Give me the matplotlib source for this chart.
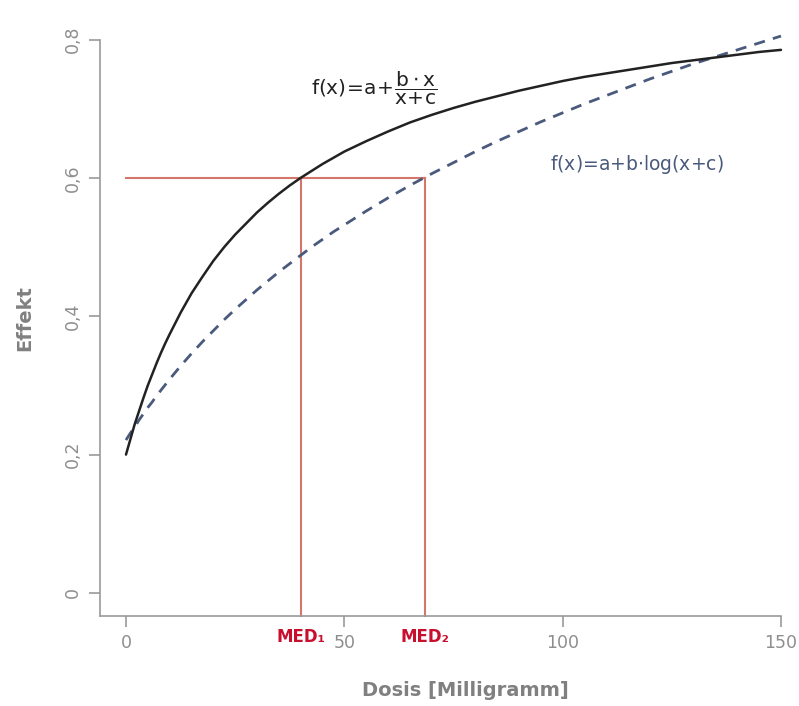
import matplotlib
matplotlib.use("Agg")
import matplotlib.pyplot as plt

# Dose values (mg)
dose = [0, 1, 2, 3, 4, 5, 6, 7, 8, 9, 10, 12.5, 15, 17.5, 20, 22.5, 25, 27.5,
        30, 32.5, 35, 37.5, 40, 42.5, 45, 47.5, 50, 55, 60, 65, 70, 75,
        80, 85, 90, 95, 100, 105, 110, 115, 120, 125, 130, 135, 140, 145, 150]
# Emax model curve  f(x)=a+b*x/(x+c)
effect_emax = [0.200, 0.222, 0.244, 0.263, 0.282, 0.300, 0.316, 0.332, 0.347,
               0.361, 0.374, 0.405, 0.433, 0.457, 0.480, 0.500, 0.518, 0.534,
               0.550, 0.564, 0.577, 0.589, 0.600, 0.610, 0.620, 0.629, 0.638,
               0.653, 0.667, 0.680, 0.691, 0.701, 0.710, 0.718, 0.726, 0.733,
               0.740, 0.746, 0.751, 0.756, 0.761, 0.766, 0.770, 0.774, 0.778,
               0.782, 0.785]
# Log model curve  f(x)=a+b*log(x+c)
effect_log = [0.221, 0.231, 0.240, 0.250, 0.259, 0.268, 0.276, 0.285, 0.293,
              0.301, 0.309, 0.328, 0.346, 0.363, 0.379, 0.395, 0.410, 0.424,
              0.438, 0.451, 0.464, 0.476, 0.488, 0.500, 0.511, 0.522, 0.532,
              0.552, 0.571, 0.589, 0.606, 0.622, 0.638, 0.653, 0.667, 0.681,
              0.694, 0.707, 0.719, 0.731, 0.743, 0.754, 0.765, 0.775, 0.785,
              0.795, 0.805]

target_effect = 0.6
med1 = 40.1
med2 = 68.4
med_labels = ["MED\u2081", "MED\u2082"]

x_ticks = [0, 50, 100, 150]
x_ticklabels = ["0", "50", "100", "150"]
y_ticks = [0, 0.2, 0.4, 0.6, 0.8]
y_ticklabels = ["0", "0,2", "0,4", "0,6", "0,8"]

plt.rcParams["mathtext.fontset"] = "dejavusans"

W, H = 799, 706
fig = plt.figure(figsize=(W / 100, H / 100), dpi=100)
ax_w = (781 - 100) / W
ax_h = (616 - 39.5) / H
ax = fig.add_axes([100 / W, 1 - 616 / H, ax_w, ax_h])

gray = "#8e8e8e"
red = "#d4766a"
medred = "#c8102e"
blue = "#4a5a7c"

ybot = -0.0333
ax.set_xlim(-5.95, 150)
ax.set_ylim(ybot, 0.8)

ax.plot([0, med2], [target_effect, target_effect], color=red, lw=1.5, zorder=2)
ax.plot([med1, med1], [ybot, target_effect], color=red, lw=1.5, zorder=2, clip_on=False)
ax.plot([med2, med2], [ybot, target_effect], color=red, lw=1.5, zorder=2, clip_on=False)

ax.plot(dose, effect_log, color=blue, lw=2.0, ls=(0, (4, 3)), zorder=3, clip_on=False)
ax.plot(dose, effect_emax, color="#222222", lw=1.8, zorder=4, clip_on=False,
        solid_capstyle="round", solid_joinstyle="round")

for s in ["top", "right"]:
    ax.spines[s].set_visible(False)
for s in ["left", "bottom"]:
    ax.spines[s].set_color("#9a9a9a")
    ax.spines[s].set_linewidth(1.2)

ax.set_xticks(x_ticks)
ax.set_xticklabels(x_ticklabels)
ax.set_yticks(y_ticks)
ax.set_yticklabels(y_ticklabels, rotation=90, va="center")
ax.tick_params(axis="both", direction="out", length=8, width=1.2, color="#9a9a9a",
               labelcolor=gray, labelsize=12.5, pad=5)

ax.set_xlabel("Dosis [Milligramm]", fontsize=14, fontweight="bold", color="#808080",
              va="center", ha="center")
ax.xaxis.set_label_coords((465 - 100) / (781 - 100), -(690 - 616) / (616 - 39.5))
ax.set_ylabel("Effekt", fontsize=14, fontweight="bold", color="#808080",
              va="center", ha="center")
ax.yaxis.set_label_coords(-(100 - 25) / (781 - 100), (616 - 318) / (616 - 39.5))

for xm, lab in zip([med1, med2], med_labels):
    ax.text(xm, ybot - 0.017, lab, ha="center", va="top",
            fontsize=12, fontweight="bold", color=medred)

fig.text(311 / W, 1 - 88 / H, r"$\mathrm{f(x)\!=\!a\!+\!\dfrac{b\cdot x}{x\!+\!c}}$",
         ha="left", va="center", fontsize=14.5, color="#222222")
fig.text(637 / W, 1 - 164 / H, r"f(x)=a+b$\cdot$log(x+c)", ha="center", va="center",
         fontsize=13.5, color=blue)

fig.savefig("out.png", dpi=100)
